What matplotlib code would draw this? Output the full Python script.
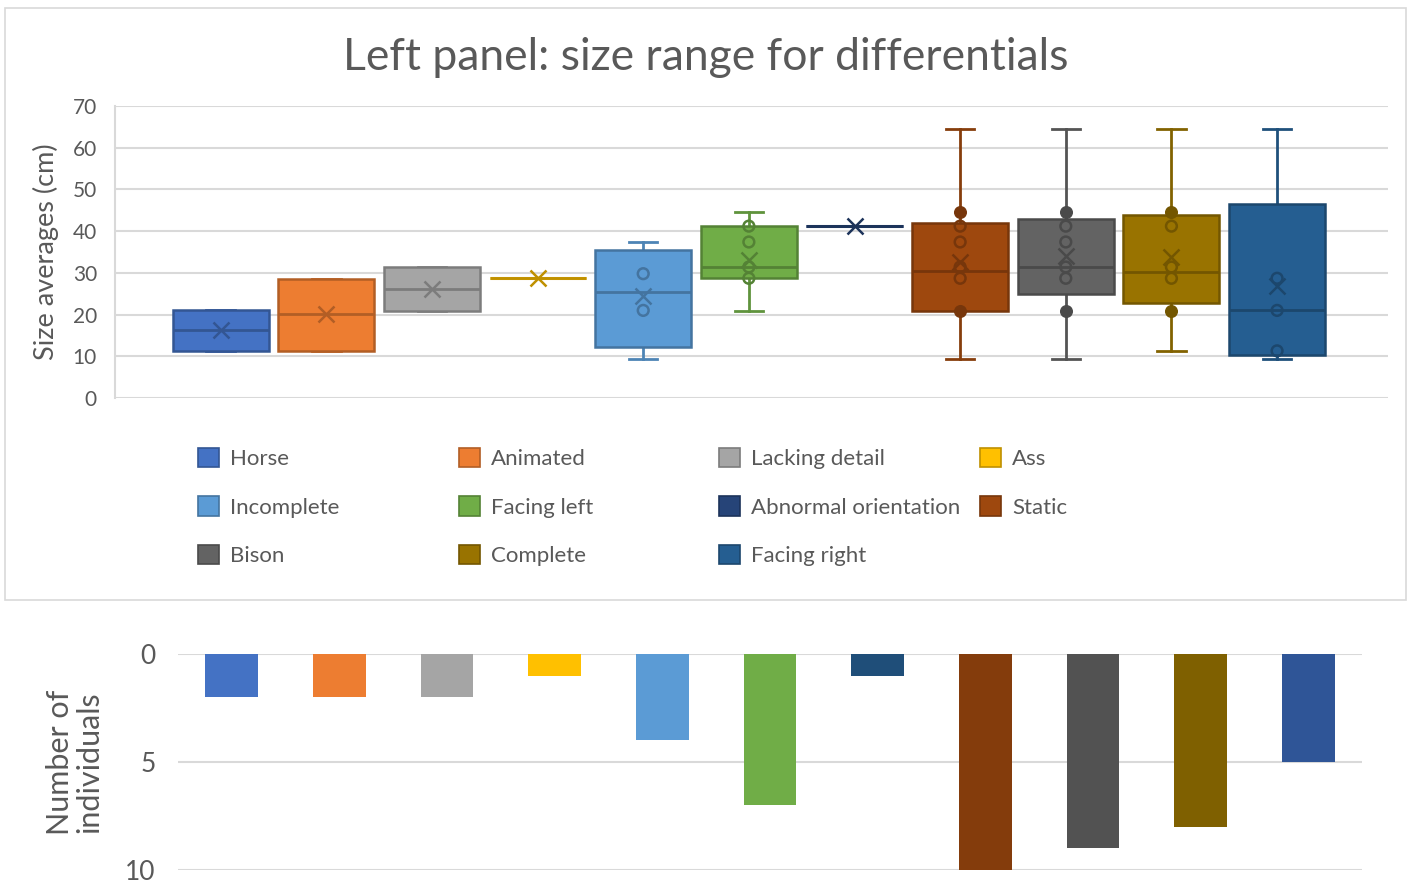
import matplotlib.pyplot as plt
import numpy as np
from matplotlib.patches import Patch, Rectangle
from matplotlib.colors import to_rgb

categories = ["Horse", "Animated", "Lacking detail", "Ass", "Incomplete", "Facing left",
              "Abnormal orientation", "Static", "Bison", "Complete", "Facing right"]
box_colors = ["#4472C4", "#ED7D31", "#A5A5A5", "#FFC000", "#5B9BD5", "#70AD47",
              "#264478", "#9E480E", "#636363", "#997300", "#255E91"]
bar_colors = ["#4472C4", "#ED7D31", "#A5A5A5", "#FFC000", "#5B9BD5", "#70AD47",
              "#1F4E79", "#843C0C", "#525252", "#7F6000", "#2F5597"]

q1 = [11.2, 11.2, 20.9, 28.7, 12.2, 28.7, 41.2, 20.9, 24.9, 22.8, 10.2]
median = [16.2, 20.2, 26.2, 28.7, 25.4, 31.4, 41.2, 30.5, 31.4, 30.2, 21.0]
q3 = [21.0, 28.6, 31.4, 28.7, 35.4, 41.2, 41.2, 42.0, 43.0, 43.8, 46.6]
whisker_low = [11.2, 11.2, 20.9, 28.7, 9.4, 20.9, 41.2, 9.4, 9.4, 11.3, 9.4]
whisker_high = [21.0, 28.6, 31.4, 28.7, 37.4, 44.6, 41.2, 64.6, 64.6, 64.6, 64.6]
means = [16.2, 20.2, 26.2, 28.7, 24.4, 33.2, 41.2, 32.7, 34.0, 33.8, 26.8]
inner_points = [[], [], [], [], [29.8, 21.0], [41.2, 37.4, 31.4, 28.7], [],
                [41.2, 37.4, 31.4, 28.7], [41.2, 37.4, 31.4, 28.7],
                [41.2, 31.4, 28.7], [28.7, 21.0, 11.3]]
filled_points = [[], [], [], [], [], [], [], [44.6, 20.9], [44.6, 20.9], [44.6, 20.9], []]
counts = [2, 2, 2, 1, 4, 7, 1, 10, 9, 8, 5]

FONT = ["Lato", "DejaVu Sans"]
TEXT = "#595959"
GRID = "#D9D9D9"


def darken(color, f=0.75):
    return tuple(c * f for c in to_rgb(color))


plt.rcParams["font.family"] = FONT

fig = plt.figure(figsize=(14.13, 8.84), dpi=100)
W, H = 1413, 884

# frame around the upper chart
fig.add_artist(Rectangle((5 / W, 1 - 600 / H), 1401 / W, 592 / H, transform=fig.transFigure,
                         facecolor="white", edgecolor=GRID, lw=1.2, zorder=0))

# upper box plot
ax = fig.add_axes([115 / W, 1 - 398 / H, 1273 / W, 292 / H])
pos = np.arange(1, len(categories) + 1)
stats = []
for i in range(len(categories)):
    stats.append(dict(med=median[i], q1=q1[i], q3=q3[i], whislo=whisker_low[i],
                      whishi=whisker_high[i], mean=means[i], fliers=[]))
parts = ax.bxp(stats, positions=pos, widths=0.91, patch_artist=True, showmeans=True,
               showfliers=False, capwidths=0.27)
for i, c in enumerate(box_colors):
    dk = darken(c)
    flat = q1[i] == q3[i]  # single-value groups drawn as a flat line
    parts["boxes"][i].set(facecolor=c, edgecolor=darken(c, 0.9) if flat else dk,
                          linewidth=2.2 if flat else 1.8, zorder=3)
    parts["medians"][i].set(color=dk, linewidth=2, zorder=4)
    parts["means"][i].set(marker="x", markersize=11, markeredgecolor=dk,
                          markeredgewidth=1.8, zorder=5)
    for art in parts["whiskers"][2 * i:2 * i + 2] + parts["caps"][2 * i:2 * i + 2]:
        art.set(color=darken(c, 0.85), linewidth=2, zorder=2)
    if inner_points[i]:
        ax.scatter([pos[i]] * len(inner_points[i]), inner_points[i], s=60, facecolors="none",
                   edgecolors=dk, linewidths=1.8, zorder=6)
    if filled_points[i]:
        ax.scatter([pos[i]] * len(filled_points[i]), filled_points[i], s=70, color=dk, zorder=6)

ax.set_xlim(0, 12.05)
ax.set_ylim(0, 70)
ax.set_yticks(range(0, 71, 10))
ax.set_xticks([])
ax.yaxis.grid(True, color=GRID, linewidth=1.5)
ax.set_axisbelow(True)
for s in ["top", "right", "bottom"]:
    ax.spines[s].set_visible(False)
ax.spines["left"].set_color(GRID)
ax.spines["left"].set_linewidth(1.5)
ax.tick_params(axis="y", length=0, pad=13, labelsize=15, labelcolor=TEXT)
ax.set_ylabel("Size averages (cm)", fontsize=19.5, color=TEXT, labelpad=10)
fig.text(706 / W, 1 - 57 / H, "Left panel: size range for differentials", ha="center",
         va="center", fontsize=32, color=TEXT)

# legend, four columns laid out row by row
col_x = [198, 459, 719, 980]
for col in range(4):
    idx = list(range(col, len(categories), 4))
    handles = [Patch(facecolor=box_colors[k], edgecolor=darken(box_colors[k]), linewidth=1.2)
               for k in idx]
    fig.legend(handles, [categories[k] for k in idx], loc="upper left",
               bbox_to_anchor=(col_x[col] / W, 1 - 448 / H), frameon=False, fontsize=16,
               handlelength=0.95, handleheight=0.95, handletextpad=0.5, labelspacing=1.22,
               borderpad=0, borderaxespad=0, labelcolor=TEXT)

# lower bar chart, counts hanging down
bx = fig.add_axes([178 / W, 1 - 870 / H, 1184 / W, 216 / H])
bx.bar(np.arange(len(categories)), counts, width=0.49, color=bar_colors, zorder=3)
bx.set_xlim(-0.5, len(categories) - 0.5)
bx.set_ylim(10, 0)
bx.set_yticks([0, 5, 10])
bx.set_xticks([])
bx.yaxis.grid(True, color=GRID, linewidth=1.5)
bx.set_axisbelow(True)
for s in bx.spines.values():
    s.set_visible(False)
bx.tick_params(axis="y", length=0, pad=16, labelsize=19, labelcolor=TEXT)
bx.set_ylabel("Number of\nindividuals", fontsize=22, color=TEXT, labelpad=16,
              linespacing=1.05)

fig.savefig("out.png", dpi=100)
